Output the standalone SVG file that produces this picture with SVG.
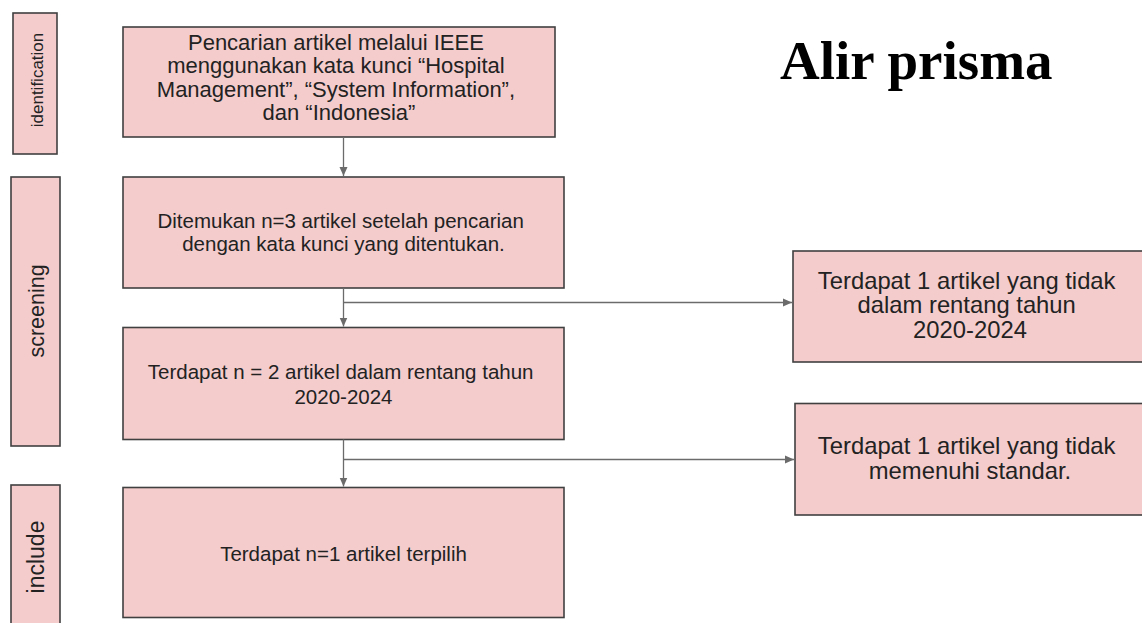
<svg xmlns="http://www.w3.org/2000/svg" width="1142" height="623" viewBox="0 0 1142 623">
  <style>
    .box { fill: #f4cccc; stroke: #404040; stroke-width: 1.6; }
    .t { font-family: "Liberation Sans", Arial, sans-serif; fill: #222222; text-anchor: middle; }
    .conn { stroke: #6b6b6b; stroke-width: 1.3; fill: none; }
    .title { font-family: "Liberation Serif", "Times New Roman", serif; font-weight: bold; font-size: 55px; fill: #000000; }
  </style>
  <defs>
    <marker id="arr" markerUnits="userSpaceOnUse" markerWidth="10" markerHeight="10" viewBox="0 0 10 10" refX="9" refY="5" orient="auto">
      <path d="M0,1 L9,5 L0,9 Z" fill="#6b6b6b"/>
    </marker>
  </defs>
  <rect width="1142" height="623" fill="#ffffff"/>

  <g id="title">
    <text class="title" x="780" y="79">Alir prisma</text>
  </g>

  <g id="stage-identification">
    <rect class="box" x="13" y="13" width="44" height="141"/>
    <text class="t" font-size="17" transform="translate(43,80) rotate(-90)" x="0" y="0">identification</text>
  </g>
  <g id="stage-screening">
    <rect class="box" x="11" y="177" width="49" height="269"/>
    <text class="t" font-size="21.5" transform="translate(44,311) rotate(-90)" x="0" y="0">screening</text>
  </g>
  <g id="stage-include">
    <rect class="box" x="11" y="485" width="49" height="145"/>
    <text class="t" font-size="23" transform="translate(44,557) rotate(-90)" x="0" y="0">include</text>
  </g>

  <g id="node-search">
    <rect class="box" x="123" y="27" width="432" height="110"/>
    <text class="t" font-size="22">
      <tspan x="339" y="50">Pencarian artikel melalui IEEE</tspan>
      <tspan x="339" y="73.3">menggunakan kata kunci “Hospital</tspan>
      <tspan x="339" y="96.7">Management”, “System Information”,</tspan>
      <tspan x="339" y="120">dan “Indonesia”</tspan>
    </text>
  </g>

  <g id="node-found">
    <rect class="box" x="123" y="177" width="441" height="111"/>
    <text class="t" font-size="20.5">
      <tspan x="343.5" y="227.5">Ditemukan n=3 artikel setelah pencarian</tspan>
      <tspan x="343.5" y="251">dengan kata kunci yang ditentukan.</tspan>
    </text>
  </g>

  <g id="node-range">
    <rect class="box" x="123" y="327.5" width="441" height="112"/>
    <text class="t" font-size="20.5">
      <tspan x="343.5" y="379">Terdapat n = 2 artikel dalam rentang tahun</tspan>
      <tspan x="343.5" y="403.5">2020-2024</tspan>
    </text>
  </g>

  <g id="node-selected">
    <rect class="box" x="123" y="487.5" width="441" height="130"/>
    <text class="t" font-size="20.5" x="343.5" y="561">Terdapat n=1 artikel terpilih</text>
  </g>

  <g id="node-excluded-year">
    <rect class="box" x="793" y="251" width="350" height="111"/>
    <text class="t" font-size="23.8">
      <tspan x="970" y="288.5">Terdapat 1 artikel yang tidak</tspan>
      <tspan x="970" y="313">dalam rentang tahun</tspan>
      <tspan x="970" y="337.5">2020-2024</tspan>
    </text>
  </g>

  <g id="node-excluded-standard">
    <rect class="box" x="795" y="403.5" width="348" height="111.5"/>
    <text class="t" font-size="23.8">
      <tspan x="970" y="454">Terdapat 1 artikel yang tidak</tspan>
      <tspan x="970" y="478.5">memenuhi standar.</tspan>
    </text>
  </g>

  <g id="connectors">
    <line class="conn" x1="343.5" y1="137" x2="343.5" y2="176" marker-end="url(#arr)"/>
    <line class="conn" x1="343.5" y1="288" x2="343.5" y2="326.5" marker-end="url(#arr)"/>
    <line class="conn" x1="343.5" y1="302.5" x2="792" y2="302.5" marker-end="url(#arr)"/>
    <line class="conn" x1="343.5" y1="439.5" x2="343.5" y2="486.5" marker-end="url(#arr)"/>
    <line class="conn" x1="343.5" y1="459.5" x2="794" y2="459.5" marker-end="url(#arr)"/>
  </g>
</svg>
